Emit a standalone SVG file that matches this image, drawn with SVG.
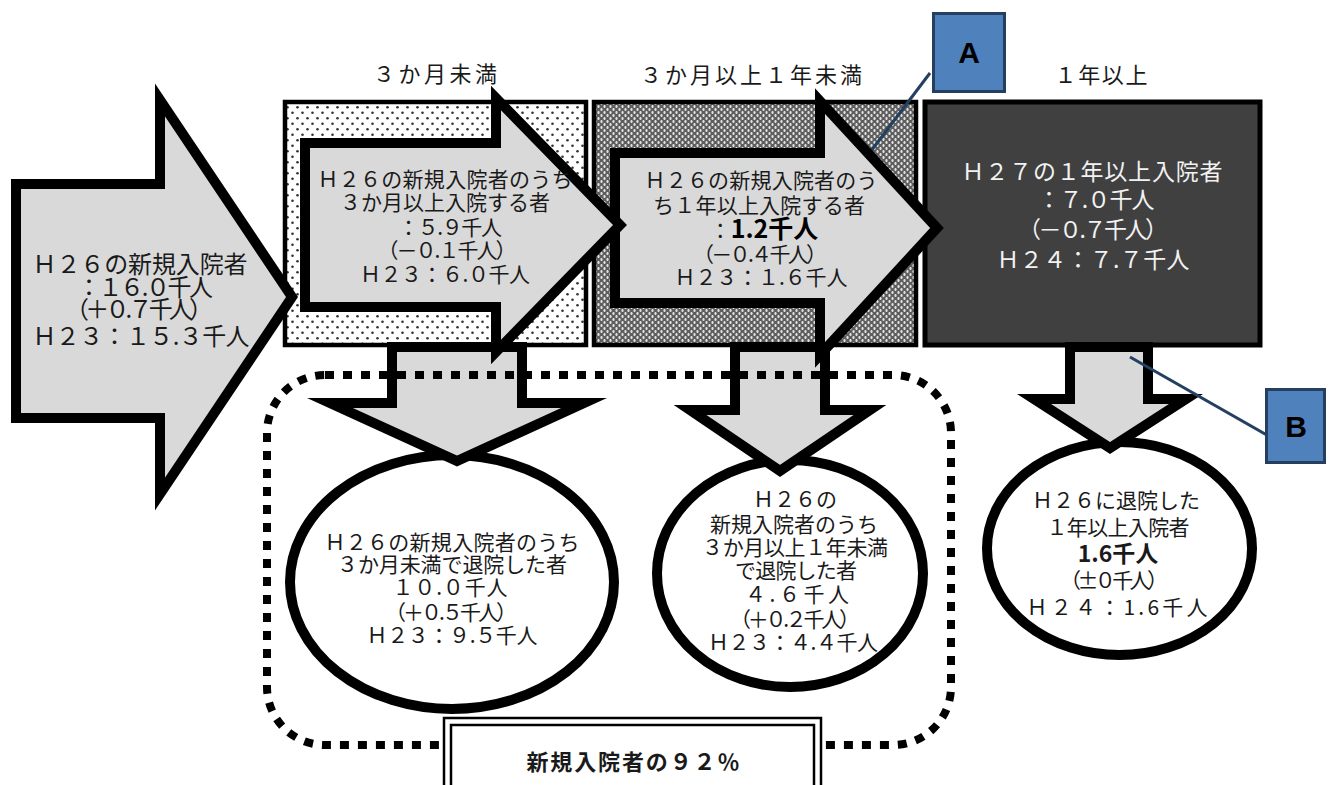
<svg xmlns="http://www.w3.org/2000/svg" width="1330" height="785" viewBox="0 0 1330 785">
<style>
.t{font-family:"Noto Sans CJK JP","Noto Sans CJK SC",sans-serif;fill:#1a1a1a;text-anchor:middle}
.w{fill:#f2f2f2}
.b{font-weight:bold}
.arr{fill:#d9d9d9;stroke:#000;stroke-width:10;stroke-linejoin:miter;stroke-miterlimit:10}
.circ{fill:#fff;stroke:#000;stroke-width:10}
.lbl{fill:#4f81bd;stroke:#243f60;stroke-width:3}
.lt{font-family:"Liberation Sans",Arial,sans-serif;font-weight:bold;font-size:30px;fill:#000;text-anchor:middle}
</style>
<defs>
<pattern id="dots" width="10" height="11" patternUnits="userSpaceOnUse">
<rect width="10" height="11" fill="#fff"/>
<circle cx="2.5" cy="2.75" r="1.3" fill="#333"/>
<circle cx="7.5" cy="8.25" r="1.3" fill="#333"/>
</pattern>
<pattern id="check" width="6" height="6" patternUnits="userSpaceOnUse">
<rect width="6" height="6" fill="#5e5e5e"/>
<rect x="0.5" y="0.5" width="2" height="2" fill="#fff"/>
<rect x="3.5" y="3.5" width="2" height="2" fill="#fff"/>
<rect x="1" y="0" width="1" height="3" fill="#e0e0e0"/>
<rect x="4" y="3" width="1" height="3" fill="#e0e0e0"/>
</pattern>
</defs>
<rect width="1330" height="785" fill="#fff"/>

<g id="headers">
<text class="t" x="435" y="82" font-size="22" textLength="124" lengthAdjust="spacing">３か月未満</text>
<text class="t" x="751" y="83" font-size="22" textLength="222" lengthAdjust="spacing">３か月以上１年未満</text>
<text class="t" x="1101" y="83" font-size="22" textLength="93" lengthAdjust="spacing">１年以上</text>
</g>

<g id="box1"><rect x="285" y="102" width="301" height="243" fill="url(#dots)" stroke="#000" stroke-width="4.5"/></g>
<g id="box2"><rect x="594" y="102" width="322" height="243" fill="url(#check)" stroke="#000" stroke-width="4.5"/></g>
<g id="box3">
<rect x="925" y="102" width="335" height="243" fill="#404040" stroke="#000" stroke-width="5"/>
<text class="t w" x="1092" y="180" font-size="23" textLength="261" lengthAdjust="spacing">Ｈ２７の１年以上入院者</text>
<text class="t w" x="1096" y="208" font-size="23" textLength="117" lengthAdjust="spacing">：７.０千人</text>
<text class="t w" x="1093" y="238" font-size="23" textLength="150" lengthAdjust="spacing">（－０.７千人）</text>
<text class="t w" x="1093" y="268" font-size="23" textLength="193" lengthAdjust="spacing">Ｈ２４：７.７千人</text>
</g>

<g id="circle1">
<ellipse class="circ" cx="452" cy="582" rx="162" ry="127"/>
<text class="t" x="452" y="550" font-size="21" textLength="255" lengthAdjust="spacing">Ｈ２６の新規入院者のうち</text>
<text class="t" x="452" y="572" font-size="21" textLength="230" lengthAdjust="spacing">３か月未満で退院した者</text>
<text class="t" x="450" y="595" font-size="21" textLength="115" lengthAdjust="spacing">１０.０千人</text>
<text class="t" x="451" y="620" font-size="21" textLength="132" lengthAdjust="spacing">（＋０.５千人）</text>
<text class="t" x="452" y="643" font-size="21" textLength="171" lengthAdjust="spacing">Ｈ２３：９.５千人</text>
</g>
<g id="circle2">
<ellipse class="circ" cx="790" cy="573.5" rx="133" ry="113.5"/>
<text class="t" x="795" y="507" font-size="21" textLength="84" lengthAdjust="spacing">Ｈ２６の</text>
<text class="t" x="794" y="532" font-size="21" textLength="168" lengthAdjust="spacing">新規入院者のうち</text>
<text class="t" x="795" y="555" font-size="21" textLength="186" lengthAdjust="spacing">３か月以上１年未満</text>
<text class="t" x="796" y="578" font-size="21" textLength="122" lengthAdjust="spacing">で退院した者</text>
<text class="t" x="797" y="602" font-size="21" textLength="104" lengthAdjust="spacing">４.６千人</text>
<text class="t" x="795" y="627" font-size="21" textLength="130" lengthAdjust="spacing">（＋０.２千人）</text>
<text class="t" x="793" y="650" font-size="21" textLength="170" lengthAdjust="spacing">Ｈ２３：４.４千人</text>
</g>
<g id="circle3">
<ellipse class="circ" cx="1119.5" cy="548.5" rx="132.5" ry="106.5"/>
<text class="t" x="1116" y="508" font-size="21" textLength="168" lengthAdjust="spacing">Ｈ２６に退院した</text>
<text class="t" x="1118" y="535" font-size="21" textLength="143" lengthAdjust="spacing">１年以上入院者</text>
<text class="t b" x="1118" y="562" font-size="23">1.6千人</text>
<text class="t" x="1114" y="588" font-size="21" textLength="108" lengthAdjust="spacing">（±０千人）</text>
<text class="t" x="1117" y="615" font-size="21" textLength="181" lengthAdjust="spacing">Ｈ２４：1.6千人</text>
</g>

<g id="connectors">
<path id="down1" class="arr" d="M392,347 V403 H330 L457,461 L584,403 H522 V347 Z"/>
<path id="down2" class="arr" d="M735,347 V410 H690 L780,471 L870,410 H825 V347 Z"/>
<path id="down3" class="arr" stroke-width="4.5" d="M1070,347 V399 H1034 L1110,448 L1186,399 H1148 V347 Z"/>
<line x1="930" y1="73" x2="868" y2="155" stroke="#243f60" stroke-width="3"/>
<line x1="1130" y1="357" x2="1272" y2="438" stroke="#243f60" stroke-width="3"/>
</g>

<g id="group92">
<rect x="267" y="375" width="684" height="370" rx="58" ry="58" fill="none" stroke="#000" stroke-width="8" stroke-dasharray="9 9"/>
<rect x="444" y="718" width="377" height="80" fill="#fff" stroke="#000" stroke-width="2.5"/>
<rect x="451" y="725" width="363" height="70" fill="#fff" stroke="#000" stroke-width="2.5"/>
<text class="t b" x="633" y="770" font-size="22" textLength="213" lengthAdjust="spacing">新規入院者の９２％</text>
</g>

<g id="arrow2">
<path class="arr" d="M615,153 H820 V101 L937,228 L820,355 V303 H615 Z"/>
<text class="t" x="761" y="188" font-size="21" textLength="233" lengthAdjust="spacing">Ｈ２６の新規入院者のう</text>
<text class="t" x="759" y="213" font-size="21" textLength="212" lengthAdjust="spacing">ち１年以上入院する者</text>
<text class="t" x="764" y="238" font-size="21">：<tspan class="b" font-size="25" fill="#000">1.2千人</tspan></text>
<text class="t" x="760" y="262" font-size="21" textLength="134" lengthAdjust="spacing">（－０.４千人）</text>
<text class="t" x="761" y="285" font-size="21" textLength="173" lengthAdjust="spacing">Ｈ２３：１.６千人</text>
</g>
<g id="arrow1">
<path class="arr" d="M305,143 H496 V98 L620,225 L496,352 V307 H305 Z"/>
<text class="t" x="445" y="187" font-size="21" textLength="255" lengthAdjust="spacing">Ｈ２６の新規入院者のうち</text>
<text class="t" x="445" y="210" font-size="21" textLength="210" lengthAdjust="spacing">３か月以上入院する者</text>
<text class="t" x="450" y="235" font-size="21" textLength="104" lengthAdjust="spacing">：５.９千人</text>
<text class="t" x="447" y="258" font-size="21" textLength="139" lengthAdjust="spacing">（－０.１千人）</text>
<text class="t" x="445" y="282" font-size="21" textLength="170" lengthAdjust="spacing">Ｈ２３：６.０千人</text>
</g>
<g id="arrow0">
<path class="arr" d="M16,184 H160 V100 L292,297 L160,494 V418 H16 Z"/>
<text class="t" x="140" y="273" font-size="24" textLength="215" lengthAdjust="spacing">Ｈ２６の新規入院者</text>
<text class="t" x="145" y="296" font-size="24" textLength="136" lengthAdjust="spacing">：１６.０千人</text>
<text class="t" x="139" y="318" font-size="24" textLength="148" lengthAdjust="spacing">（＋０.７千人）</text>
<text class="t" x="141" y="345" font-size="24" textLength="217" lengthAdjust="spacing">Ｈ２３：１５.３千人</text>
</g>

<g id="labelA">
<rect class="lbl" x="933.5" y="13.5" width="71" height="78"/>
<text class="lt" x="969" y="63">A</text>
</g>
<g id="labelB">
<rect class="lbl" x="1266.5" y="389.5" width="58" height="73"/>
<text class="lt" x="1296" y="437">B</text>
</g>
</svg>
